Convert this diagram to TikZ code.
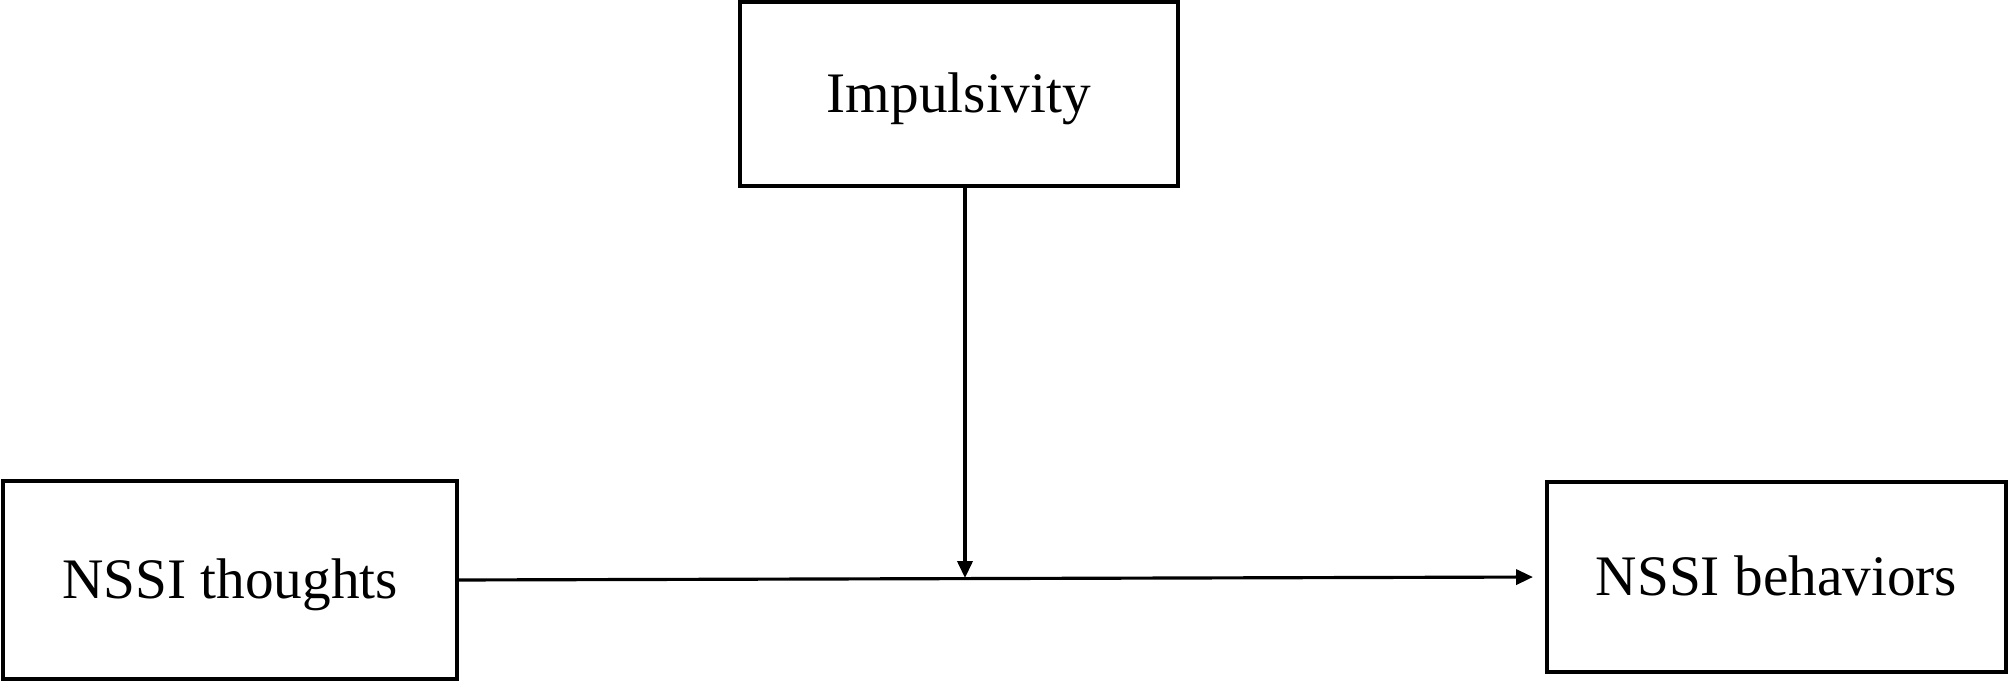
\documentclass[tikz,border=0pt]{standalone}
\usepackage{fontspec}
\setmainfont{Liberation Serif}
\usetikzlibrary{positioning}
\usetikzlibrary{arrows.meta}
\begin{document}
\begin{tikzpicture}[
            varbox/.style={draw, rectangle, line width=0.9pt, inner sep=0pt, outer sep=0pt, align=center, text height=10.8pt, text depth=0pt, font=\fontsize{16.3}{19}\selectfont},
            path/.style={-{Triangle[length=4.8pt, width=4.3pt]}, line width=0.9pt}
        ]
            \useasboundingbox (0,0) rectangle (20.08,6.84);
            \node[varbox, minimum width=4.38cm, minimum height=1.84cm] (impulsivity) at (9.59,5.90) {Impulsivity};
            \node[varbox, minimum width=4.54cm, minimum height=1.98cm] (thoughts) at (2.30,1.04) {NSSI thoughts};
            \node[varbox, minimum width=4.59cm, minimum height=1.90cm] (behaviors) at (17.765,1.07) {NSSI behaviors};
            \coordinate (moderate) at (9.65,1.06);
            
            \draw[path, shorten >=4pt] (thoughts.east) -- (behaviors.west);
            \draw[path] (impulsivity.south -| moderate) -- (moderate);
        \end{tikzpicture}
\end{document}
